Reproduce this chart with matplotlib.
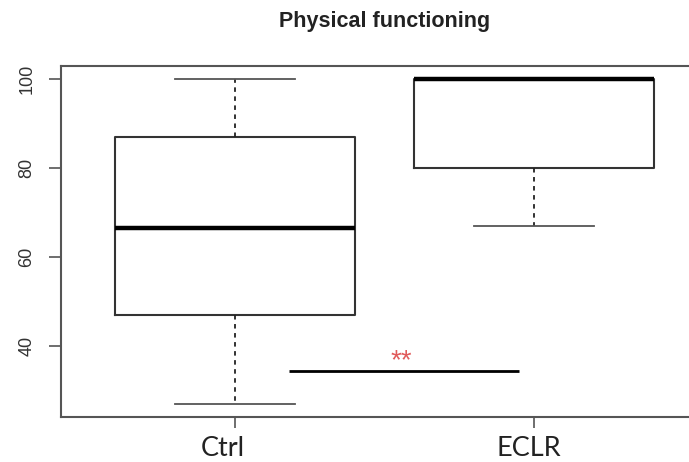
import matplotlib
matplotlib.use("Agg")
import matplotlib.pyplot as plt

# box summary per group
groups = ["Ctrl", "ECLR"]
whisker_low = [27, 67]
q1 = [47, 80]
median = [66.5, 100]
q3 = [87, 100]
whisker_high = [100, 100]

# significance bar between the groups
sig_x = [1.18, 1.95]
sig_y = 34.4
sig_label = "**"

y_ticks = [40, 60, 80, 100]
positions = [1, 2]

W, H = 689, 462
fig = plt.figure(figsize=(W / 100, H / 100), dpi=100)
ax = fig.add_axes([61 / W, 45.5 / H, (708 - 61) / W, (416.5 - 65.7) / H])

stats = []
for i, name in enumerate(groups):
    stats.append({
        "label": name,
        "whislo": whisker_low[i],
        "q1": q1[i],
        "med": median[i],
        "q3": q3[i],
        "whishi": whisker_high[i],
        "fliers": [],
    })

ax.bxp(
    stats,
    positions=positions,
    widths=0.8,
    showfliers=False,
    boxprops=dict(color="#333333", linewidth=1.5),
    medianprops=dict(color="black", linewidth=3.2, solid_capstyle="butt"),
    whiskerprops=dict(color="#222222", linewidth=1.3, linestyle=(0, (2.5, 2.5))),
    capprops=dict(color="#555555", linewidth=1.3),
    capwidths=0.4,
)

ax.plot(sig_x, [sig_y, sig_y], color="black", linewidth=2.0, solid_capstyle="butt")
ax.text(sum(sig_x) / 2 - 0.01, 36.6, sig_label, color="#e05a5a",
        fontsize=20, fontfamily="Liberation Sans", ha="center", va="center")

ax.set_xlim(0.42, 2.58)
ax.set_ylim(24.08, 102.92)

ax.set_yticks(y_ticks)
ax.set_yticklabels([str(v) for v in y_ticks], rotation=90, va="center",
                   fontsize=13, fontfamily="Liberation Sans", color="#333333")
ax.set_xticks(positions)
ax.set_xticklabels([])

# group names, set a little left of their ticks
for pos, name, dx in zip(positions, groups, [-12, -5]):
    ax.annotate(name, xy=(pos, 0), xycoords=("data", "axes fraction"),
                xytext=(dx, -19), textcoords="offset pixels",
                ha="center", va="top", fontsize=19.5, fontfamily="Lato",
                color="#222222", annotation_clip=False)

ax.tick_params(axis="y", length=8.5, width=1.2, color="#555555", pad=10)
ax.tick_params(axis="x", length=8, width=1.2, color="#555555")

for side in ["left", "right", "top", "bottom"]:
    ax.spines[side].set_color("#555555")
    ax.spines[side].set_linewidth(1.5)

fig.text(385 / W, 1 - 22 / H, "Physical functioning", fontsize=15.5,
         fontweight="bold", fontfamily="Liberation Sans", color="#222222",
         ha="center", va="center")

fig.savefig("out.png", dpi=100)
